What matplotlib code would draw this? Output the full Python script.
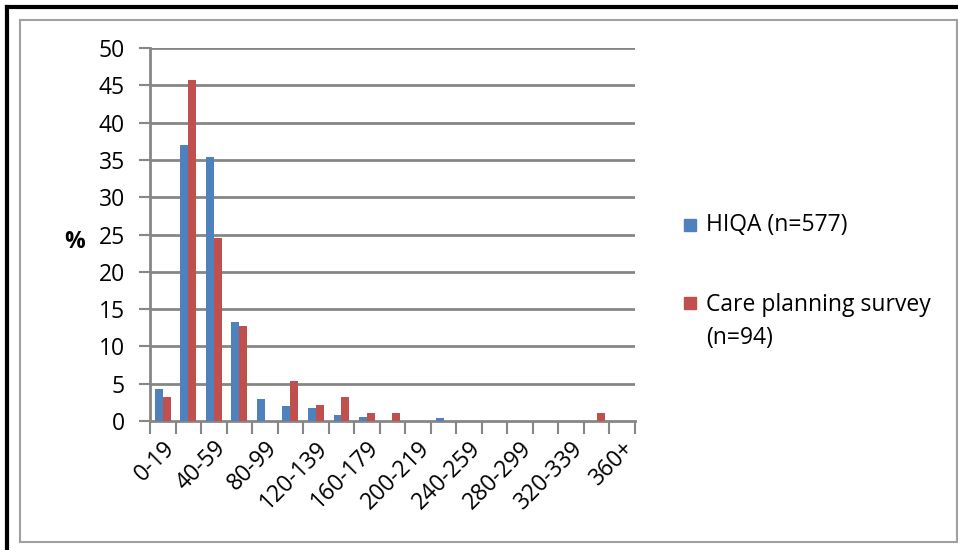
import numpy as np
import matplotlib
matplotlib.use("Agg")
import matplotlib.pyplot as plt
from matplotlib.patches import Rectangle

plt.rcParams['font.family'] = ['Open Sans', 'DejaVu Sans']

categories = ["0-19", "20-39", "40-59", "60-79", "80-99", "100-119", "120-139",
              "140-159", "160-179", "180-199", "200-219", "220-239", "240-259",
              "260-279", "280-299", "300-319", "320-339", "340-359", "360+"]
hiqa = [4.3, 37.0, 35.4, 13.3, 2.9, 2.0, 1.7, 0.85, 0.6, 0, 0, 0.35, 0, 0, 0, 0, 0, 0, 0]
care = [3.2, 45.7, 24.5, 12.8, 0, 5.3, 2.1, 3.2, 1.1, 1.1, 0, 0, 0, 0, 0, 0, 0, 1.1, 0]
yticks = list(range(0, 55, 5))

BLUE = "#4F81BD"
RED = "#C0504D"
GRID = "#868686"
FS = 16.5

fig = plt.figure(figsize=(9.58, 5.5), dpi=100)

# outer frame (black top/left) and inner chart frame (gray)
fig.add_artist(plt.Line2D([7 / 958, 7 / 958], [0, 1 - 7 / 550], color="black", lw=3))
fig.add_artist(plt.Line2D([7 / 958, 1], [1 - 7 / 550, 1 - 7 / 550], color="black", lw=3))
fig.add_artist(Rectangle((20 / 958, 1 - 542 / 550), 937 / 958, 522 / 550,
                         fill=False, ec="#A0A0A0", lw=1.5, transform=fig.transFigure))

ax = fig.add_axes([150 / 958, 1 - 421 / 550, 485 / 958, 373 / 550])
x = np.arange(len(categories))
w = 0.31
ax.bar(x - w / 2, hiqa, w, color=BLUE, zorder=3)
ax.bar(x + w / 2, care, w, color=RED, zorder=3)

ax.set_xlim(-0.5, len(categories) - 0.5)
ax.set_ylim(0, 50)
ax.set_yticks(yticks)
ax.tick_params(axis="y", labelsize=FS, length=8, width=1.5, color=GRID, pad=10)
for y in yticks[1:]:
    ax.axhline(y, color=GRID, lw=2, zorder=1)

ax.set_xticks(x[::2])
ax.set_xticklabels(categories[::2], rotation=45, ha="right", rotation_mode="anchor",
                   fontsize=FS)
ax.tick_params(axis="x", length=0, pad=11)
ax.set_xticks(np.arange(-0.5, len(categories)), minor=True)
ax.tick_params(axis="x", which="minor", length=9, width=1.5, color=GRID)

for s in ["top", "right"]:
    ax.spines[s].set_visible(False)
for s in ["left", "bottom"]:
    ax.spines[s].set_color(GRID)
    ax.spines[s].set_linewidth(2)

fig.text(75 / 958, 1 - 242 / 550, "%", fontsize=FS, fontweight="bold",
         ha="center", va="center")

# legend
fig.add_artist(Rectangle((684 / 958, 1 - 231 / 550), 12 / 958, 12 / 550,
                         color=BLUE, transform=fig.transFigure))
fig.text(706 / 958, 1 - 225 / 550, "HIQA (n=577)", fontsize=FS, va="center")
fig.add_artist(Rectangle((684 / 958, 1 - 309 / 550), 12 / 958, 12 / 550,
                         color=RED, transform=fig.transFigure))
fig.text(706 / 958, 1 - 305 / 550, "Care planning survey", fontsize=FS, va="center")
fig.text(706 / 958, 1 - 338 / 550, "(n=94)", fontsize=FS, va="center")

fig.savefig("out.png", dpi=100)
